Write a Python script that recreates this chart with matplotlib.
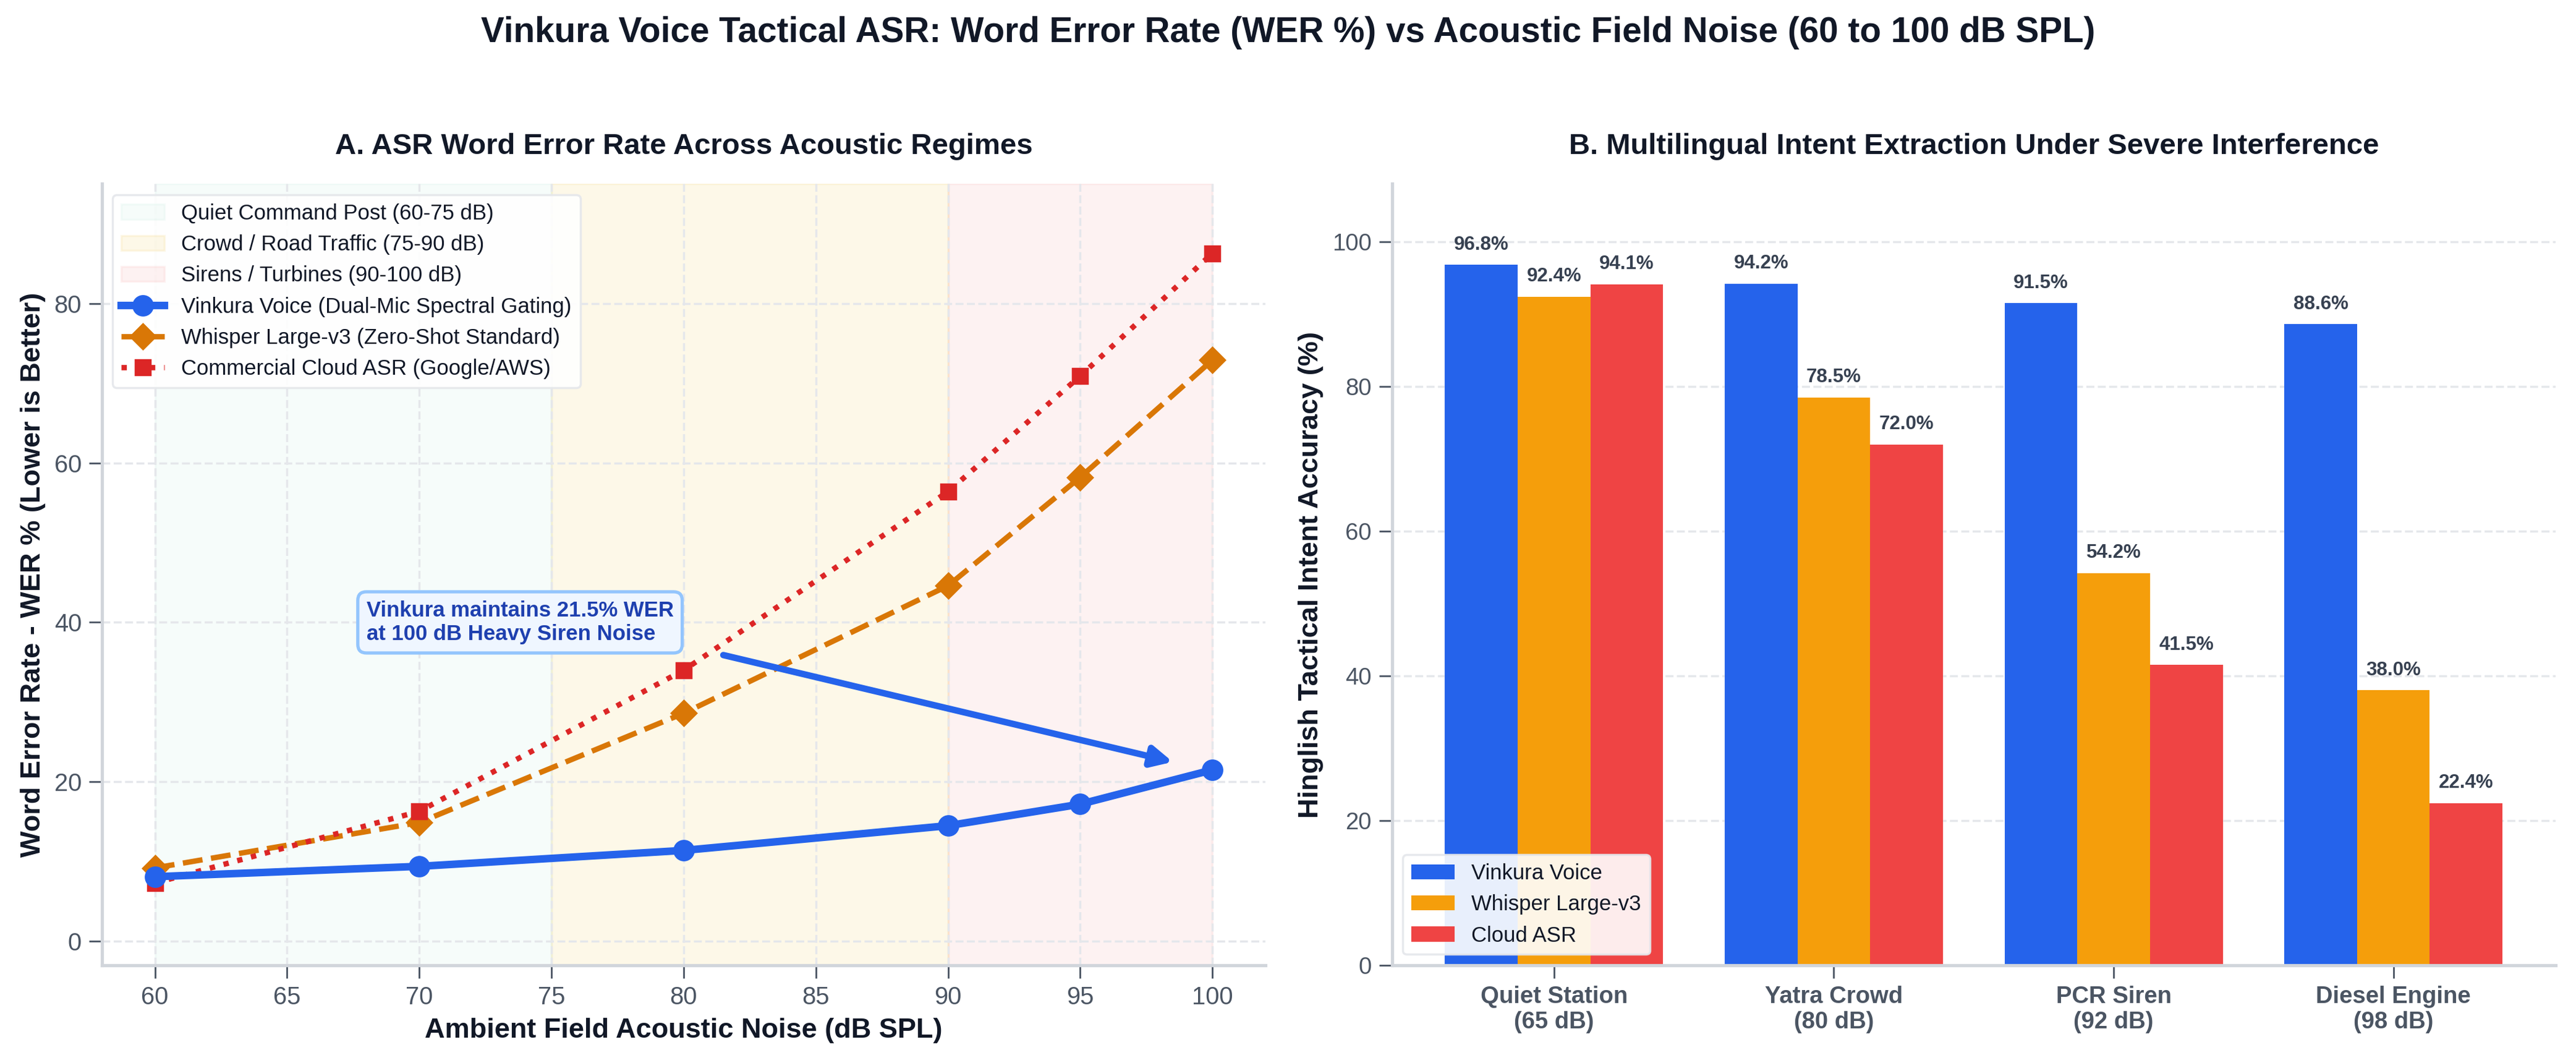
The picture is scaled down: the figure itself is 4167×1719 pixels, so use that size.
import matplotlib.pyplot as plt
import numpy as np

plt.rcParams['font.family'] = ['Liberation Sans', 'DejaVu Sans']

# panel A data
noise_db = [60, 70, 80, 90, 95, 100]
wer_vinkura = [8.1, 9.4, 11.4, 14.5, 17.2, 21.5]
wer_whisper = [9.2, 14.9, 28.6, 44.6, 58.2, 72.9]
wer_cloud = [7.3, 16.3, 34.0, 56.4, 70.9, 86.3]

# panel B data
scenarios = ['Quiet Station\n(65 dB)', 'Yatra Crowd\n(80 dB)', 'PCR Siren\n(92 dB)', 'Diesel Engine\n(98 dB)']
acc_vinkura = [96.8, 94.2, 91.5, 88.6]
acc_whisper = [92.4, 78.5, 54.2, 38.0]
acc_cloud = [94.1, 72.0, 41.5, 22.4]

dark = '#111827'
tickc = '#4b5563'
spinec = '#d1d5db'

fig, (ax1, ax2) = plt.subplots(1, 2, figsize=(4167/250, 1719/250), dpi=250)
fig.subplots_adjust(left=0.0396, right=0.992, bottom=0.092, top=0.827, wspace=0.109)

fig.suptitle('Vinkura Voice Tactical ASR: Word Error Rate (WER %) vs Acoustic Field Noise (60 to 100 dB SPL)',
             fontsize=16.3, fontweight='bold', color=dark, y=0.985)

# ---- Panel A ----
ax1.axvspan(60, 75, color='#10b981', alpha=0.035, zorder=0, label='Quiet Command Post (60-75 dB)')
ax1.axvspan(75, 90, color='#eab308', alpha=0.09, zorder=0, label='Crowd / Road Traffic (75-90 dB)')
ax1.axvspan(90, 100, color='#ef4444', alpha=0.065, zorder=0, label='Sirens / Turbines (90-100 dB)')

ax1.plot(noise_db, wer_vinkura, color='#2563eb', lw=3.5, marker='o', ms=9,
         label='Vinkura Voice (Dual-Mic Spectral Gating)', zorder=5)
ax1.plot(noise_db, wer_whisper, color='#d97706', lw=2.5, ls='--', marker='D', ms=8,
         label='Whisper Large-v3 (Zero-Shot Standard)', zorder=4)
ax1.plot(noise_db, wer_cloud, color='#dc2626', lw=2.5, ls=':', marker='s', ms=7,
         label='Commercial Cloud ASR (Google/AWS)', zorder=4)

ax1.text(68.0, 40, 'Vinkura maintains 21.5% WER\nat 100 dB Heavy Siren Noise', fontsize=10,
         fontweight='bold', color='#1e40af', va='center', ha='left', zorder=6,
         bbox=dict(boxstyle='round,pad=0.4', fc='#eff6ff', ec='#93c5fd', lw=1.5))
ax1.annotate('', xy=(98.5, 22.5), xytext=(81.5, 35.9),
             arrowprops=dict(arrowstyle='-|>', color='#2563eb', lw=3, mutation_scale=20,
                             shrinkA=0, shrinkB=0), zorder=6)

ax1.set_xlim(58, 102)
ax1.set_ylim(-3, 95)
ax1.set_xticks([60, 65, 70, 75, 80, 85, 90, 95, 100])
ax1.set_title('A. ASR Word Error Rate Across Acoustic Regimes', fontsize=13.6, fontweight='bold',
              color=dark, pad=14)
ax1.set_xlabel('Ambient Field Acoustic Noise (dB SPL)', fontsize=13, fontweight='bold', color=dark)
ax1.set_ylabel('Word Error Rate - WER % (Lower is Better)', fontsize=13, fontweight='bold', color=dark)
ax1.grid(True, ls='--', color='#e5e7eb', lw=1)
ax1.set_axisbelow(True)
ax1.legend(loc='upper left', fontsize=10, frameon=True, fancybox=True, framealpha=0.9,
           edgecolor='#e5e7eb', labelcolor=dark)

# ---- Panel B ----
x = np.arange(len(scenarios))
w = 0.26
b1 = ax2.bar(x - w, acc_vinkura, w, color='#2563eb', label='Vinkura Voice')
b2 = ax2.bar(x, acc_whisper, w, color='#f59e0b', label='Whisper Large-v3')
b3 = ax2.bar(x + w, acc_cloud, w, color='#ef4444', label='Cloud ASR')
for bars in (b1, b2, b3):
    for r in bars:
        ax2.text(r.get_x() + r.get_width() / 2, r.get_height() + 1.5, f'{r.get_height():.1f}%',
                 ha='center', va='bottom', fontsize=9, fontweight='bold', color='#374151')

ax2.set_ylim(0, 108)
ax2.set_xticks(x)
ax2.set_xticklabels(scenarios, fontsize=11.5, fontweight='bold', color=tickc)
ax2.set_title('B. Multilingual Intent Extraction Under Severe Interference', fontsize=13.6,
              fontweight='bold', color=dark, pad=14)
ax2.set_ylabel('Hinglish Tactical Intent Accuracy (%)', fontsize=13, fontweight='bold', color=dark)
ax2.grid(True, axis='y', ls='--', color='#e5e7eb', lw=1)
ax2.set_axisbelow(True)
ax2.legend(loc='lower left', fontsize=10, frameon=True, fancybox=True, framealpha=0.9,
           edgecolor='#e5e7eb', labelcolor=dark)

for ax in (ax1, ax2):
    ax.spines['top'].set_visible(False)
    ax.spines['right'].set_visible(False)
    for s in ('left', 'bottom'):
        ax.spines[s].set_color(spinec)
        ax.spines[s].set_linewidth(1.5)
    ax.tick_params(axis='both', labelsize=11, colors=tickc, length=6)
ax1.tick_params(axis='both', labelsize=11.5)

fig.savefig('out.png', dpi=250)
